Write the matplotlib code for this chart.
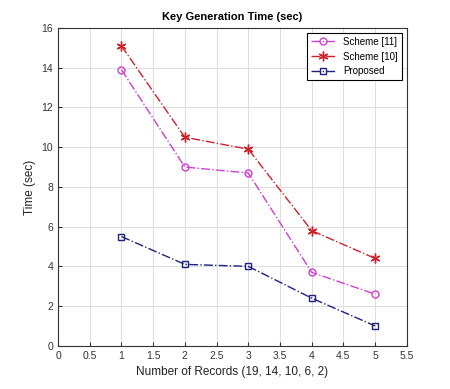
import matplotlib
matplotlib.use("Agg")
import matplotlib.pyplot as plt
import numpy as np

# data
records = [1, 2, 3, 4, 5]
scheme11 = [13.9, 9.0, 8.7, 3.7, 2.6]
scheme10 = [15.1, 10.5, 9.9, 5.8, 4.4]
proposed = [5.5, 4.1, 4.0, 2.4, 1.0]
xticks = np.arange(0, 5.51, 0.5)
yticks = np.arange(0, 17, 2)

plt.rcParams['font.family'] = ['Liberation Sans', 'DejaVu Sans']

fig = plt.figure(figsize=(4.5, 3.89), dpi=100)
ax = fig.add_axes([0.129, 0.111, 0.775, 0.817])

ax.plot(records, scheme11, '-.', color='#d040d0', marker='o', mfc='none',
        ms=5, lw=1, label='Scheme [11]')
ax.plot(records, scheme10, '-.', color='#d0202a', marker=(6, 2, 0), ms=7,
        mew=1, lw=1, label='Scheme [10]')
ax.plot(records, proposed, '-.', color='#202080', marker='s', mfc='none',
        ms=4, lw=1, label='Proposed')

ax.set_xlim(0, 5.5)
ax.set_ylim(0, 16)
ax.set_xticks(xticks)
ax.set_xticklabels(['0', '0.5', '1', '1.5', '2', '2.5', '3', '3.5', '4',
                    '4.5', '5', '5.5'])
ax.set_yticks(yticks)
ax.tick_params(labelsize=7.5, direction='in', length=3, color='#333333',
               labelcolor='#333333')
ax.grid(True, color='#dddddd', lw=0.7)
for s in ax.spines.values():
    s.set_color('#333333')
    s.set_linewidth(0.8)

ax.set_title('Key Generation Time (sec)', fontsize=8, fontweight='bold')
ax.set_xlabel('Number of Records (19, 14, 10, 6, 2)', fontsize=8.5,
              color='#222222')
ax.set_ylabel('Time (sec)', fontsize=8.5, color='#222222')

leg = ax.legend(loc='upper right', fontsize=7, fancybox=False,
                edgecolor='black', framealpha=1, handlelength=2.5)
leg.get_frame().set_linewidth(0.8)

fig.savefig('out.png', dpi=100)
